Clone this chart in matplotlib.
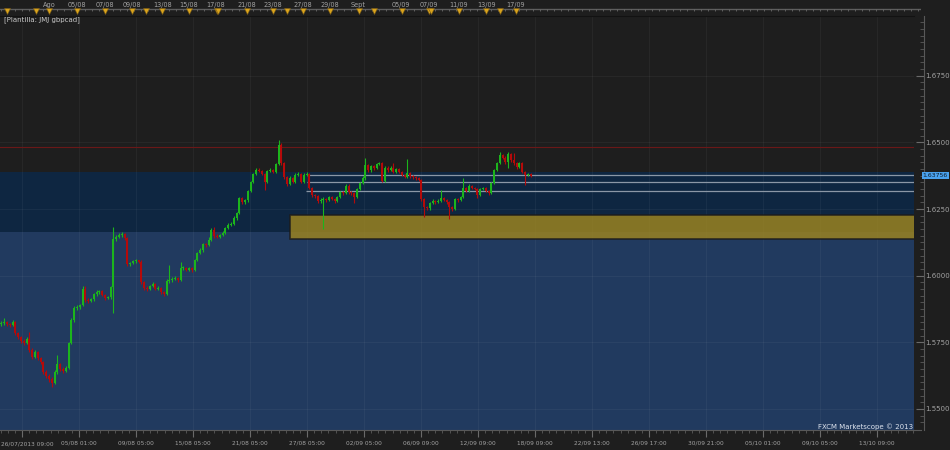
import numpy as np
import matplotlib.pyplot as plt
from matplotlib.patches import Rectangle
from matplotlib.lines import Line2D
from matplotlib.transforms import blended_transform_factory

# GBPCAD 4h candles (bar 0 = 26/07/2013)
opens = [1.5818, 1.5822, 1.5825, 1.5818, 1.5815, 1.5826, 1.5784, 1.5770, 1.5755, 1.5748,
         1.5762, 1.5721, 1.5695, 1.5713, 1.5690, 1.5676, 1.5638, 1.5623, 1.5612, 1.5598,
         1.5638, 1.5668, 1.5650, 1.5642, 1.5653, 1.5748, 1.5834, 1.5879, 1.5882, 1.5890,
         1.5950, 1.5909, 1.5905, 1.5912, 1.5931, 1.5938, 1.5942, 1.5927, 1.5916, 1.5920,
         1.5957, 1.6137, 1.6145, 1.6152, 1.6156, 1.6141, 1.6043, 1.6047, 1.6055, 1.6058,
         1.6051, 1.5976, 1.5954, 1.5950, 1.5961, 1.5969, 1.5950, 1.5954, 1.5938, 1.5931,
         1.5980, 1.5982, 1.5987, 1.5991, 1.5984, 1.6028, 1.6030, 1.6021, 1.6028, 1.6021,
         1.6059, 1.6084, 1.6096, 1.6118, 1.6115, 1.6134, 1.6171, 1.6148, 1.6146, 1.6152,
         1.6160, 1.6179, 1.6190, 1.6194, 1.6216, 1.6235, 1.6290, 1.6276, 1.6282, 1.6317,
         1.6351, 1.6381, 1.6396, 1.6392, 1.6381, 1.6351, 1.6392, 1.6396, 1.6389, 1.6419,
         1.6490, 1.6422, 1.6370, 1.6344, 1.6366, 1.6351, 1.6378, 1.6381, 1.6351, 1.6378,
         1.6381, 1.6329, 1.6302, 1.6299, 1.6280, 1.6284, 1.6287, 1.6284, 1.6295, 1.6287,
         1.6280, 1.6295, 1.6313, 1.6310, 1.6336, 1.6313, 1.6310, 1.6295, 1.6325, 1.6347,
         1.6366, 1.6415, 1.6396, 1.6411, 1.6404, 1.6419, 1.6422, 1.6355, 1.6404, 1.6396,
         1.6404, 1.6389, 1.6400, 1.6389, 1.6378, 1.6370, 1.6385, 1.6374, 1.6370, 1.6366,
         1.6359, 1.6287, 1.6257, 1.6253, 1.6272, 1.6280, 1.6276, 1.6280, 1.6291, 1.6284,
         1.6276, 1.6257, 1.6250, 1.6287, 1.6284, 1.6295, 1.6329, 1.6317, 1.6336, 1.6329,
         1.6325, 1.6302, 1.6325, 1.6329, 1.6317, 1.6310, 1.6347, 1.6396, 1.6422, 1.6453,
         1.6441, 1.6426, 1.6455, 1.6434, 1.6422, 1.6407, 1.6422, 1.6389, 1.6378, 1.6381]
highs = [1.5830, 1.5840, 1.5830, 1.5824, 1.5832, 1.5830, 1.5790, 1.5775, 1.5762, 1.5770,
         1.5790, 1.5728, 1.5720, 1.5718, 1.5696, 1.5680, 1.5645, 1.5630, 1.5618, 1.5645,
         1.5702, 1.5672, 1.5656, 1.5660, 1.5752, 1.5840, 1.5886, 1.5890, 1.5895, 1.5960,
         1.5962, 1.5915, 1.5918, 1.5936, 1.5945, 1.5948, 1.5946, 1.5932, 1.5925, 1.5962,
         1.6182, 1.6152, 1.6160, 1.6165, 1.6160, 1.6146, 1.6052, 1.6060, 1.6064, 1.6060,
         1.6060, 1.5980, 1.5960, 1.5966, 1.5975, 1.5972, 1.5960, 1.5958, 1.5942, 1.5986,
         1.6040, 1.5994, 1.5998, 1.5995, 1.6051, 1.6036, 1.6034, 1.6034, 1.6032, 1.6064,
         1.6090, 1.6102, 1.6124, 1.6124, 1.6145, 1.6178, 1.6182, 1.6155, 1.6158, 1.6166,
         1.6184, 1.6196, 1.6200, 1.6222, 1.6240, 1.6296, 1.6294, 1.6286, 1.6322, 1.6356,
         1.6386, 1.6402, 1.6402, 1.6396, 1.6386, 1.6398, 1.6404, 1.6400, 1.6424, 1.6509,
         1.6496, 1.6428, 1.6375, 1.6372, 1.6370, 1.6384, 1.6388, 1.6386, 1.6384, 1.6388,
         1.6386, 1.6334, 1.6308, 1.6304, 1.6290, 1.6294, 1.6292, 1.6300, 1.6298, 1.6292,
         1.6300, 1.6318, 1.6318, 1.6342, 1.6344, 1.6318, 1.6314, 1.6330, 1.6352, 1.6372,
         1.6441, 1.6420, 1.6416, 1.6415, 1.6424, 1.6428, 1.6426, 1.6410, 1.6410, 1.6410,
         1.6422, 1.6405, 1.6404, 1.6394, 1.6382, 1.6437, 1.6390, 1.6378, 1.6375, 1.6370,
         1.6364, 1.6292, 1.6262, 1.6278, 1.6286, 1.6284, 1.6286, 1.6321, 1.6295, 1.6288,
         1.6280, 1.6262, 1.6292, 1.6292, 1.6300, 1.6366, 1.6334, 1.6342, 1.6340, 1.6334,
         1.6330, 1.6330, 1.6334, 1.6332, 1.6320, 1.6352, 1.6400, 1.6428, 1.6464, 1.6458,
         1.6450, 1.6462, 1.6460, 1.6459, 1.6426, 1.6426, 1.6426, 1.6394, 1.6386, 1.6384]
lows = [1.5810, 1.5815, 1.5812, 1.5808, 1.5810, 1.5778, 1.5762, 1.5748, 1.5740, 1.5742,
        1.5715, 1.5688, 1.5690, 1.5684, 1.5668, 1.5630, 1.5615, 1.5600, 1.5583, 1.5592,
        1.5632, 1.5644, 1.5636, 1.5638, 1.5648, 1.5742, 1.5828, 1.5870, 1.5874, 1.5885,
        1.5902, 1.5898, 1.5900, 1.5906, 1.5925, 1.5932, 1.5922, 1.5910, 1.5912, 1.5914,
        1.5859, 1.6130, 1.6140, 1.6146, 1.6135, 1.6038, 1.6036, 1.6042, 1.6048, 1.6046,
        1.5970, 1.5948, 1.5944, 1.5945, 1.5956, 1.5945, 1.5946, 1.5932, 1.5925, 1.5928,
        1.5972, 1.5976, 1.5982, 1.5978, 1.5980, 1.6022, 1.6016, 1.6018, 1.6015, 1.6018,
        1.6054, 1.6080, 1.6090, 1.6108, 1.6110, 1.6130, 1.6142, 1.6140, 1.6142, 1.6148,
        1.6155, 1.6174, 1.6185, 1.6190, 1.6210, 1.6230, 1.6270, 1.6270, 1.6278, 1.6312,
        1.6346, 1.6376, 1.6388, 1.6376, 1.6321, 1.6346, 1.6388, 1.6384, 1.6384, 1.6414,
        1.6416, 1.6364, 1.6338, 1.6340, 1.6346, 1.6346, 1.6372, 1.6346, 1.6346, 1.6372,
        1.6324, 1.6296, 1.6292, 1.6274, 1.6274, 1.6174, 1.6278, 1.6280, 1.6282, 1.6274,
        1.6276, 1.6290, 1.6304, 1.6306, 1.6308, 1.6304, 1.6272, 1.6290, 1.6320, 1.6342,
        1.6360, 1.6390, 1.6390, 1.6398, 1.6400, 1.6414, 1.6350, 1.6350, 1.6390, 1.6392,
        1.6384, 1.6385, 1.6384, 1.6372, 1.6365, 1.6366, 1.6368, 1.6364, 1.6360, 1.6354,
        1.6280, 1.6220, 1.6246, 1.6248, 1.6268, 1.6270, 1.6272, 1.6276, 1.6280, 1.6270,
        1.6213, 1.6244, 1.6246, 1.6278, 1.6280, 1.6290, 1.6312, 1.6312, 1.6324, 1.6320,
        1.6292, 1.6298, 1.6320, 1.6312, 1.6304, 1.6306, 1.6342, 1.6392, 1.6418, 1.6436,
        1.6420, 1.6405, 1.6428, 1.6416, 1.6400, 1.6402, 1.6384, 1.6340, 1.6372, 1.6370]
closes = [1.5822, 1.5825, 1.5818, 1.5815, 1.5826, 1.5784, 1.5770, 1.5755, 1.5748, 1.5762,
          1.5721, 1.5695, 1.5713, 1.5690, 1.5676, 1.5638, 1.5623, 1.5612, 1.5598, 1.5638,
          1.5668, 1.5650, 1.5642, 1.5653, 1.5748, 1.5834, 1.5879, 1.5882, 1.5890, 1.5950,
          1.5909, 1.5905, 1.5912, 1.5931, 1.5938, 1.5942, 1.5927, 1.5916, 1.5920, 1.5957,
          1.6137, 1.6145, 1.6152, 1.6156, 1.6141, 1.6043, 1.6047, 1.6055, 1.6058, 1.6051,
          1.5976, 1.5954, 1.5950, 1.5961, 1.5969, 1.5950, 1.5954, 1.5938, 1.5931, 1.5980,
          1.5982, 1.5987, 1.5991, 1.5984, 1.6028, 1.6030, 1.6021, 1.6028, 1.6021, 1.6059,
          1.6084, 1.6096, 1.6118, 1.6115, 1.6134, 1.6171, 1.6148, 1.6146, 1.6152, 1.6160,
          1.6179, 1.6190, 1.6194, 1.6216, 1.6235, 1.6290, 1.6276, 1.6282, 1.6317, 1.6351,
          1.6381, 1.6396, 1.6392, 1.6381, 1.6351, 1.6392, 1.6396, 1.6389, 1.6419, 1.6490,
          1.6422, 1.6370, 1.6344, 1.6366, 1.6351, 1.6378, 1.6381, 1.6351, 1.6378, 1.6381,
          1.6329, 1.6302, 1.6299, 1.6280, 1.6284, 1.6287, 1.6284, 1.6295, 1.6287, 1.6280,
          1.6295, 1.6313, 1.6310, 1.6336, 1.6313, 1.6310, 1.6295, 1.6325, 1.6347, 1.6366,
          1.6415, 1.6396, 1.6411, 1.6404, 1.6419, 1.6422, 1.6355, 1.6404, 1.6396, 1.6404,
          1.6389, 1.6400, 1.6389, 1.6378, 1.6370, 1.6385, 1.6374, 1.6370, 1.6366, 1.6359,
          1.6287, 1.6257, 1.6253, 1.6272, 1.6280, 1.6276, 1.6280, 1.6291, 1.6284, 1.6276,
          1.6257, 1.6250, 1.6287, 1.6284, 1.6295, 1.6329, 1.6317, 1.6336, 1.6329, 1.6325,
          1.6302, 1.6325, 1.6329, 1.6317, 1.6310, 1.6347, 1.6396, 1.6422, 1.6453, 1.6441,
          1.6426, 1.6455, 1.6434, 1.6422, 1.6407, 1.6422, 1.6389, 1.6378, 1.6381, 1.63756]
last_price = 1.63756

# zones / levels drawn on the chart
zone_dark = (1.6163, 1.6388)
zone_light_top = 1.6163
supply_box = (1.6137, 1.6226)
supply_box_start = 103.1          # bar index where the yellow box begins
gray_levels = [1.6378, 1.6350, 1.6316]
gray_starts = [109.5, 109.2, 108.8]
red_level = 1.6481

# axis labels
price_ticks = [1.5500, 1.5750, 1.6000, 1.6250, 1.6500, 1.6750]
bottom_labels = ['26/07/2013 09:00', '05/08 01:00', '09/08 05:00', '15/08 05:00',
                 '21/08 05:00', '27/08 05:00', '02/09 05:00', '06/09 09:00',
                 '12/09 09:00', '18/09 09:00', '22/09 13:00', '26/09 17:00',
                 '30/09 21:00', '05/10 01:00', '09/10 05:00', '13/10 09:00']
top_labels = ['Ago', '05/08', '07/08', '09/08', '13/08', '15/08', '17/08', '21/08', '23/08',
              '27/08', '29/08', 'Sept', '05/09', '07/09', '11/09', '13/09', '17/09']
top_label_bars = [17.0, 27.0, 37.0, 46.6, 57.4, 67.0, 76.6, 87.7, 97.0,
                  107.7, 117.4, 127.4, 142.7, 152.7, 163.1, 173.1, 183.8]
event_bars = [2.0, 12.4, 17.0, 27.0, 37.0, 46.6, 51.6, 57.4, 67.0, 77.0, 77.5, 87.7, 97.0,
              102.0, 107.7, 117.4, 127.7, 133.1, 143.1, 152.7, 153.4, 163.4, 173.1, 178.1, 183.8]

W, H = 950, 450
PX = 2.8   # pixels per bar
BG = '#1e1e1e'
TXT = '#a2a2a2'
DATE_FS = 4.2

fig = plt.figure(figsize=(9.5, 4.5), dpi=100, facecolor=BG)
ax = fig.add_axes([0, 20 / H, 914 / W, 414 / H])
ax.set_facecolor(BG)

# background zones
ax.axhspan(zone_dark[0], zone_dark[1], color='#0e2641', lw=0, zorder=0.2)
ax.axhspan(1.50, zone_light_top, color='#213a5f', lw=0, zorder=0.2)

# grid
ax.set_axisbelow(True)
bottom_pos = [7.36 + 20.357 * k for k in range(len(bottom_labels))]
ax.set_xticks(bottom_pos)
ax.set_xticklabels([''] + bottom_labels[1:])
ax.set_xticks(np.arange(7.36 - 20.357, 330, 20.357 / 8), minor=True)
ax.set_yticks(price_ticks)
ax.set_yticklabels(['%.4f' % p for p in price_ticks])
ax.set_yticks(np.arange(1.5450, 1.6976, 0.0025), minor=True)
ax.grid(True, which='major', color='white', alpha=0.045, lw=0.9)

# levels
ax.axhline(red_level, color='#6a1818', lw=0.8, zorder=1)
ax.add_patch(Rectangle((supply_box_start, supply_box[0]), 400, supply_box[1] - supply_box[0],
                       facecolor='#9a8321', alpha=0.85, edgecolor='#1c1c1c', lw=1.2, zorder=1.5))
for lvl, st in zip(gray_levels, gray_starts):
    ax.hlines(lvl, st, 400, color='#8b97a6', lw=0.9, zorder=1.6)

# candles
o = np.array(opens); h = np.array(highs); l = np.array(lows); c = np.array(closes)
x = np.arange(len(o))
cols = np.where(c >= o, '#1cb51c', '#b50a0a')
ax.vlines(x, np.minimum(l, np.minimum(o, c)), np.maximum(h, np.maximum(o, c)),
          colors=cols, lw=0.8, zorder=3)
ax.bar(x, np.maximum(np.abs(c - o), 0.0003), bottom=np.minimum(o, c), width=0.75,
       color=cols, lw=0, zorder=3.5)

# limits after ticks (set_xticks widens the view)
ax.set_xlim(-0.5, -0.5 + 914 / PX)
ax.set_ylim(1.5421, 1.6974)

# axes styling
ax.spines['left'].set_visible(False)
ax.spines['top'].set_color('#121212')
ax.spines['bottom'].set_color('#585858')
ax.spines['right'].set_color('#585858')
ax.spines['right'].set_position(('outward', 7))
ax.yaxis.tick_right()
ax.tick_params(axis='y', which='major', direction='in', length=6, width=0.8,
               color='#6a6a6a', labelcolor=TXT, labelsize=5, pad=1)
ax.tick_params(axis='y', which='minor', direction='in', length=3, width=0.6, color='#5a5a5a')
ax.tick_params(axis='x', which='major', direction='out', length=5, width=0.8,
               color='#6a6a6a', labelcolor=TXT, labelsize=DATE_FS, pad=2.5)
ax.tick_params(axis='x', which='minor', direction='out', length=2.5, width=0.6, color='#5a5a5a')
fig.add_artist(Line2D([914 / W, 921 / W], [20 / H, 20 / H], color='#585858', lw=0.8))
# first date label sits flush with the left edge
fig.text(1 / W, 1 - 443.5 / H, bottom_labels[0], fontsize=DATE_FS, color=TXT,
         ha='left', va='center')

# last price marker
tr = blended_transform_factory(fig.transFigure, ax.transData)
ax.text(922.5 / W, last_price, '%.5f' % last_price, transform=tr, ha='left', va='center',
        fontsize=4.4, color='#0c1a2a',
        bbox=dict(boxstyle='square,pad=0.15', fc='#4aa2ee', ec='none'))

# top timeline strip
tax = fig.add_axes([0, 434 / H, 921 / W, 16 / H])
tax.axis('off')
tax.axhline(9, color='#5e5e5e', lw=1)
tax.vlines(np.arange(0, 330, 2.5), 9, 10.8, color='#6a6a6a', lw=0.6)
for lab, b in zip(top_labels, top_label_bars):
    tax.text(b, 4.8, lab, ha='center', va='center', fontsize=4.7, color=TXT)
tax.plot(event_bars, [11.2] * len(event_bars), 'v', ms=4.2, color='#d9a41e',
         mec='#7a5a12', mew=0.4)
tax.set_xlim(-0.5, -0.5 + 921 / PX)
tax.set_ylim(16, 0)

fig.text(4 / W, 1 - 19.5 / H, '[Plantilla: JMJ gbpcad]', fontsize=5, color='#c8c8c8',
         va='center', ha='left')
fig.text(913 / W, 1 - 426.5 / H, 'FXCM Marketscope © 2013', fontsize=5, color='#dde3ee',
         va='center', ha='right')

fig.savefig('out.png', dpi=100, facecolor=BG)
